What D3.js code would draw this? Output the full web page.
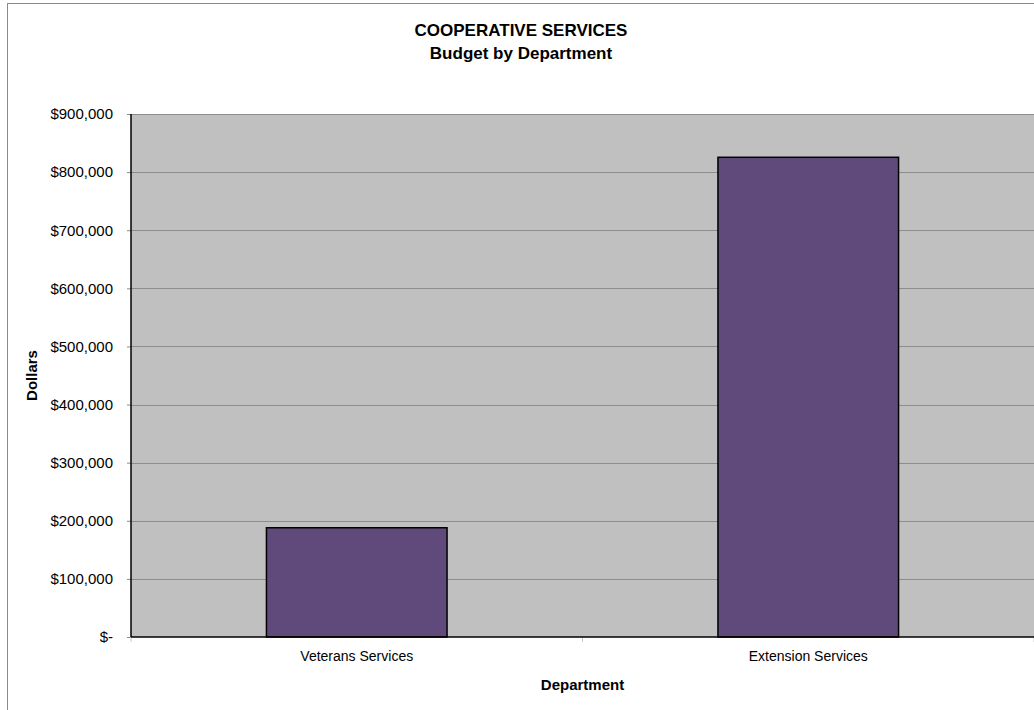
<!DOCTYPE html>
<html>
<head>
<meta charset="utf-8">
<script src="https://cdn.jsdelivr.net/npm/d3@7"></script>
<style>
  html, body { margin: 0; padding: 0; background: #fff; }
  svg { display: block; font-family: Arial, "Liberation Sans", sans-serif; }
</style>
</head>
<body>
<svg id="chart" width="1034" height="710"></svg>
<script>
const titleLines = ["COOPERATIVE SERVICES", "Budget by Department"];
const categories = ["Veterans Services", "Extension Services"];
const budgets = [188000, 825500];
const yTicks = [0, 100000, 200000, 300000, 400000, 500000, 600000, 700000, 800000, 900000];
const yTickLabels = ["$-", "$100,000", "$200,000", "$300,000", "$400,000", "$500,000", "$600,000", "$700,000", "$800,000", "$900,000"];
const xAxisTitle = "Department";
const yAxisTitle = "Dollars";

const svg = d3.select("#chart");
const plot = { left: 131, right: 1034, top: 114, bottom: 637 };

// outer chart border
svg.append("rect")
  .attr("x", 7.5).attr("y", 3.5)
  .attr("width", 1040).attr("height", 720)
  .attr("fill", "#fff").attr("stroke", "#8a8a8a").attr("stroke-width", 1);

const y = d3.scaleLinear().domain([0, 900000]).range([plot.bottom, plot.top]);
const x = d3.scaleBand().domain(categories).range([plot.left, plot.right])
  .paddingInner(0.6).paddingOuter(0.3);

// plot background
svg.append("rect")
  .attr("x", plot.left).attr("y", plot.top)
  .attr("width", plot.right - plot.left).attr("height", plot.bottom - plot.top)
  .attr("fill", "#c0c0c0");

// gridlines
svg.append("g").selectAll("line").data(yTicks.filter(d => d > 0)).join("line")
  .attr("x1", plot.left).attr("x2", plot.right)
  .attr("y1", d => Math.round(y(d)) + 0.5).attr("y2", d => Math.round(y(d)) + 0.5)
  .attr("stroke", "#8c8c8c").attr("stroke-width", 1);

// y axis
const yAxis = d3.axisLeft(y).tickValues(yTicks)
  .tickFormat((d, i) => yTickLabels[i]).tickSize(4).tickPadding(14);
const gy = svg.append("g").attr("transform", `translate(${plot.left},0)`).call(yAxis);
gy.select(".domain").remove();
gy.selectAll(".tick line").attr("stroke", "#8c8c8c");
gy.selectAll(".tick text").attr("font-size", 15).attr("fill", "#000")
  .attr("font-family", 'Arial, "Liberation Sans", sans-serif');

// x axis ticks at category boundaries
const step = x.step();
const boundaries = [plot.left, plot.left + (plot.right - plot.left) / 2, plot.right];
svg.append("g").selectAll("line").data(boundaries).join("line")
  .attr("x1", d => d).attr("x2", d => d)
  .attr("y1", plot.bottom).attr("y2", plot.bottom + 5)
  .attr("stroke", "#c8c8c8");

// bars
svg.append("g").selectAll("rect").data(categories).join("rect")
  .attr("x", d => x(d))
  .attr("y", (d, i) => y(budgets[i]))
  .attr("width", x.bandwidth())
  .attr("height", (d, i) => y(0) - y(budgets[i]))
  .attr("fill", "#604a7b").attr("stroke", "#000").attr("stroke-width", 1.5);

// axis lines
svg.append("line").attr("x1", plot.left).attr("x2", plot.left)
  .attr("y1", plot.top).attr("y2", plot.bottom)
  .attr("stroke", "#000").attr("stroke-width", 1.5);
svg.append("line").attr("x1", plot.left).attr("x2", plot.right)
  .attr("y1", plot.bottom).attr("y2", plot.bottom)
  .attr("stroke", "#000").attr("stroke-width", 1.5);

// category labels
svg.append("g").selectAll("text").data(categories).join("text")
  .attr("x", d => x(d) + x.bandwidth() / 2).attr("y", 661)
  .attr("text-anchor", "middle").attr("font-size", 14).text(d => d);

// titles
svg.append("text").attr("x", 521).attr("y", 36).attr("text-anchor", "middle")
  .attr("font-size", 17).attr("font-weight", "bold").text(titleLines[0]);
svg.append("text").attr("x", 521).attr("y", 59).attr("text-anchor", "middle")
  .attr("font-size", 17).attr("font-weight", "bold").text(titleLines[1]);

// axis titles
svg.append("text").attr("x", (plot.left + plot.right) / 2).attr("y", 690)
  .attr("text-anchor", "middle").attr("font-size", 15).attr("font-weight", "bold")
  .text(xAxisTitle);
svg.append("text")
  .attr("transform", `translate(37,${(plot.top + plot.bottom) / 2}) rotate(-90)`)
  .attr("text-anchor", "middle").attr("font-size", 15).attr("font-weight", "bold")
  .text(yAxisTitle);
</script>
</body>
</html>
